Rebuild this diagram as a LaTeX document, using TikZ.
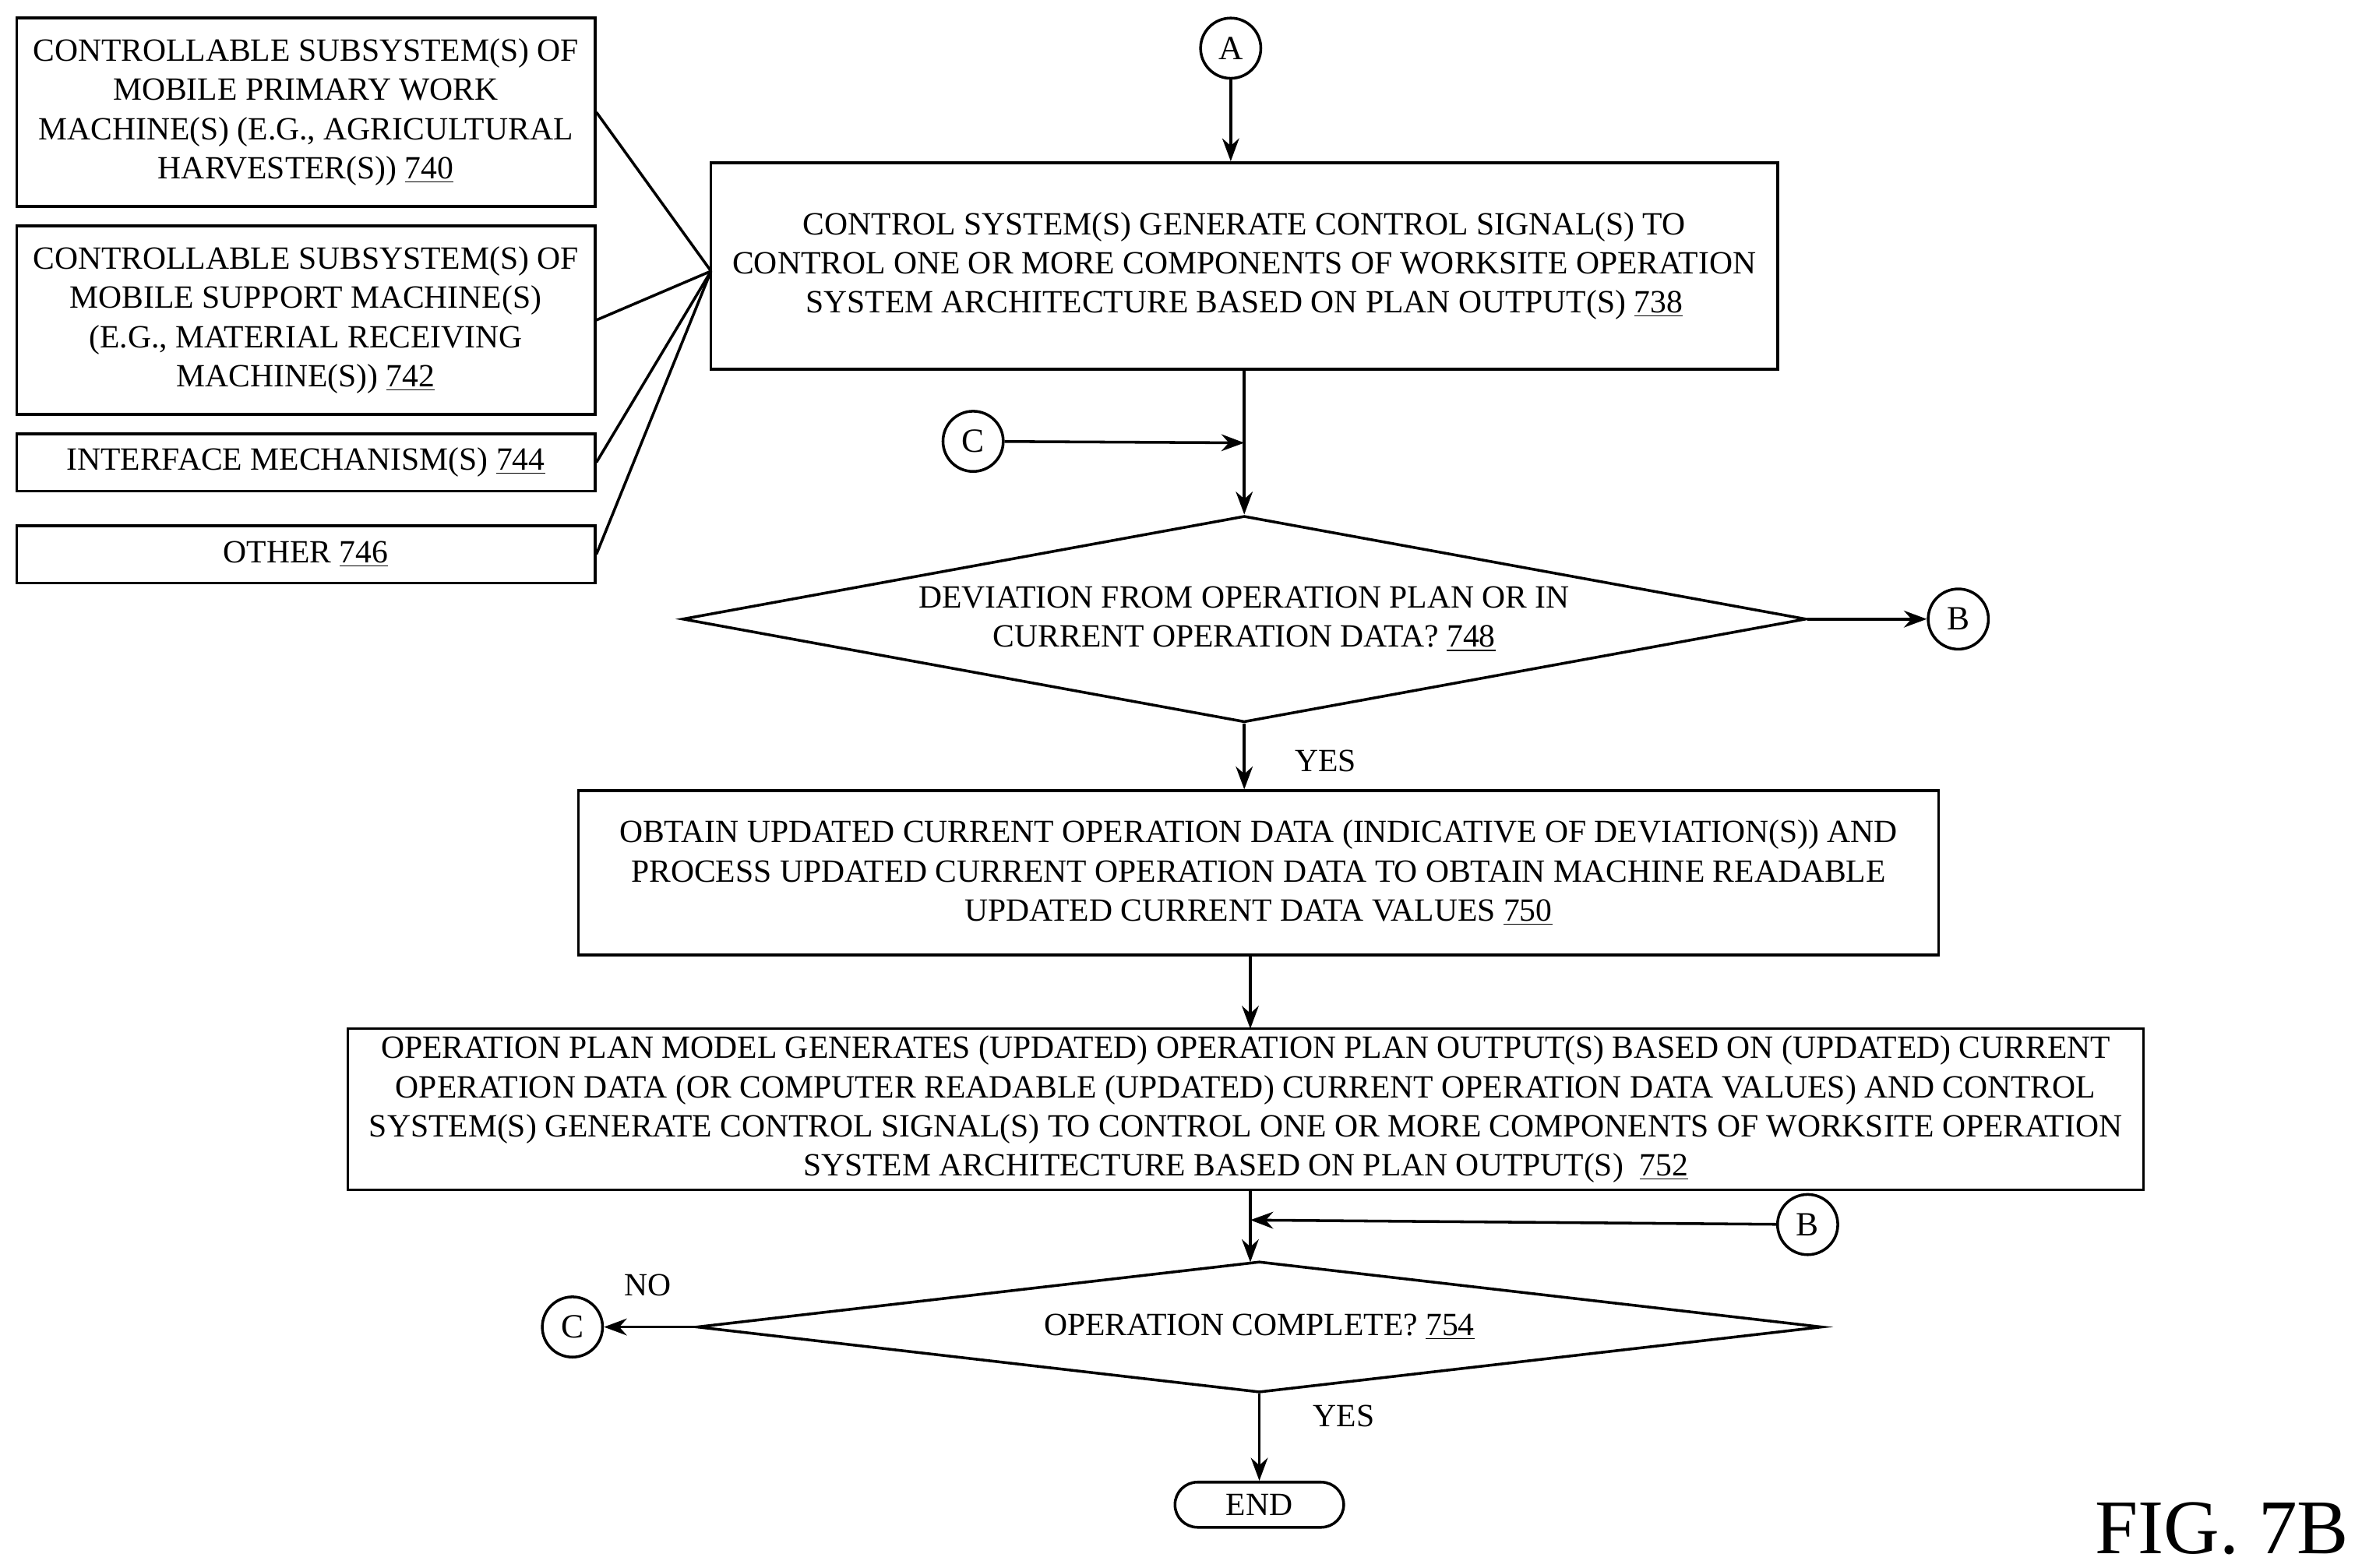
\documentclass[tikz,border=0pt]{standalone}
\usepackage{fontspec}
\setmainfont{Liberation Serif}
\usetikzlibrary{shapes.geometric,arrows.meta}
\begin{document}
\begin{tikzpicture}[x=0.025cm,y=-0.025cm,
  every node/.style={font=\fontsize{15.3pt}{18.5pt}\selectfont},
  box/.style={draw,line width=1.3pt,align=center,inner sep=0pt},
  dia/.style={draw,diamond,line width=1.3pt,align=center,inner sep=0pt},
  circ/.style={draw,circle,line width=1.3pt,minimum size=40*0.025cm,inner sep=0pt,font=\fontsize{16pt}{18pt}\selectfont},
  ln/.style={line width=1.3pt},
  arr/.style={line width=1.3pt,-{Stealth[length=0.38cm,width=0.28cm]}},
  lbl/.style={font=\fontsize{15.3pt}{16pt}\selectfont}]
\useasboundingbox (0,0) rectangle (1568,1041);
\node[box,minimum width=384*0.025cm,minimum height=125*0.025cm] (b740) at (203,74.5)
 {CONTROLLABLE SUBSYSTEM(S) OF\\MOBILE PRIMARY WORK\\MACHINE(S) (E.G., AGRICULTURAL\\HARVESTER(S)) \underline{740}};
\node[box,minimum width=384*0.025cm,minimum height=125*0.025cm] (b742) at (203,212.5)
 {CONTROLLABLE SUBSYSTEM(S) OF\\MOBILE SUPPORT MACHINE(S)\\(E.G., MATERIAL RECEIVING\\MACHINE(S)) \underline{742}};
\node[box,minimum width=384*0.025cm,minimum height=38*0.025cm] (b744) at (203,307) {INTERFACE MECHANISM(S) \underline{744}};
\node[box,minimum width=384*0.025cm,minimum height=38*0.025cm] (b746) at (203,368) {OTHER \underline{746}};
\node[box,minimum width=708*0.025cm,minimum height=137*0.025cm] (b738) at (826,176.5)
 {CONTROL SYSTEM(S) GENERATE CONTROL SIGNAL(S) TO\\CONTROL ONE OR MORE COMPONENTS OF WORKSITE OPERATION\\SYSTEM ARCHITECTURE BASED ON PLAN OUTPUT(S) \underline{738}};
\coordinate (j) at (472,180);
\draw[ln] (b740.east) -- (j);
\draw[ln] (b742.east) -- (j);
\draw[ln] (b744.east) -- (j);
\draw[ln] (b746.east) -- (j);
\node[circ] (A) at (817,32) {A};
\draw[arr] (A) -- (A|-b738.north);
\node[dia,aspect=5.45,minimum width=746*0.025cm,minimum height=137*0.025cm] (d748) at (826,411)
 {DEVIATION FROM OPERATION PLAN OR IN\\CURRENT OPERATION DATA? \underline{748}};
\draw[arr] (b738.south-|d748) -- (d748.north);
\node[circ] (C1) at (646,293) {C};
\coordinate (c1e) at (826,294);
\draw[arr] (C1) -- (c1e);
\node[circ] (B1) at (1300,411) {B};
\draw[arr] (d748.east) -- (B1);
\node[box,minimum width=903*0.025cm,minimum height=109*0.025cm] (b750) at (835.5,579.5)
 {OBTAIN UPDATED CURRENT OPERATION DATA (INDICATIVE OF DEVIATION(S)) AND\\PROCESS UPDATED CURRENT OPERATION DATA TO OBTAIN MACHINE READABLE\\UPDATED CURRENT DATA VALUES \underline{750}};
\draw[arr] (d748.south) -- (d748.south|-b750.north);
\node[lbl] (yes1) at (880,505) {YES};
\node[box,minimum width=1192*0.025cm,minimum height=107*0.025cm] (b752) at (827,736.5)
 {OPERATION PLAN MODEL GENERATES (UPDATED) OPERATION PLAN OUTPUT(S) BASED ON (UPDATED) CURRENT\\OPERATION DATA (OR COMPUTER READABLE (UPDATED) CURRENT OPERATION DATA VALUES) AND CONTROL\\SYSTEM(S) GENERATE CONTROL SIGNAL(S) TO CONTROL ONE OR MORE COMPONENTS OF WORKSITE OPERATION\\SYSTEM ARCHITECTURE BASED ON PLAN OUTPUT(S) \ \underline{752}};
\coordinate (t750) at (830,634);
\draw[arr] (t750) -- (830,683);
\node[dia,aspect=8.59,minimum width=747*0.025cm,minimum height=87*0.025cm] (d754) at (836,881) {OPERATION COMPLETE? \underline{754}};
\coordinate (t752) at (830,790);
\draw[arr] (t752) -- (830,838);
\node[circ] (B2) at (1200,813) {B};
\draw[arr] (B2) -- (830,810);
\node[circ] (C2) at (380,881) {C};
\draw[arr] (d754.west) -- (C2);
\node[lbl] (no) at (430,853) {NO};
\node[lbl] (yes2) at (892,940) {YES};
\node[draw,line width=1.3pt,rounded corners=15*0.025cm,minimum width=112*0.025cm,minimum height=30*0.025cm,inner sep=0pt] (end) at (836,999) {END};
\draw[arr] (d754.south) -- (end.north);
\node[font=\fontsize{36.5pt}{40pt}\selectfont,anchor=south] (fig) at (1475,1037) {FIG. 7B};
\end{tikzpicture}
\end{document}
